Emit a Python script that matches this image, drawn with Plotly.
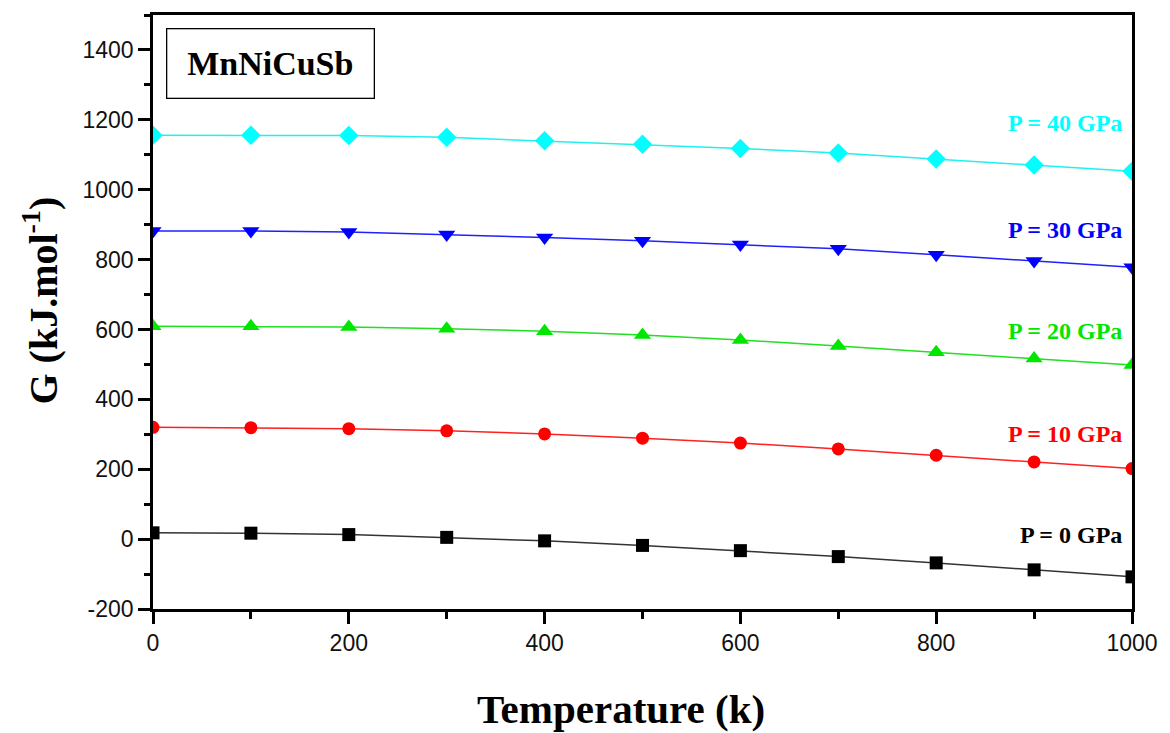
import plotly.graph_objects as go

# Temperature (K) and Gibbs free energy G (kJ/mol) at each pressure
temperature = [0, 100, 200, 300, 400, 500, 600, 700, 800, 900, 1000]
g_0gpa = [18, 17, 13, 5, -5, -18, -33, -50, -68, -88, -108]
g_10gpa = [320, 319, 316, 310, 301, 289, 275, 258, 240, 221, 202]
g_20gpa = [609, 609, 607, 602, 595, 584, 570, 553, 535, 517, 498]
g_30gpa = [882, 882, 879, 872, 863, 854, 843, 831, 814, 796, 778]
g_40gpa = [1156, 1156, 1155, 1150, 1140, 1130, 1118, 1105, 1088, 1071, 1053]

series_labels = ["P = 0 GPa", "P = 10 GPa", "P = 20 GPa", "P = 30 GPa", "P = 40 GPa"]
label_y = [11, 302, 595, 885, 1190]
compound = "MnNiCuSb"

x_ticks = [0, 200, 400, 600, 800, 1000]
y_ticks = [-200, 0, 200, 400, 600, 800, 1000, 1200, 1400]
y_tick_text = ["-200", "0", "200", "400", "600", "800", "1000", "1200", "1400"]

series = [g_0gpa, g_10gpa, g_20gpa, g_30gpa, g_40gpa]
colors = ["#000000", "#ff0000", "#00e600", "#0000ff", "#00ffff"]
line_colors = ["#333333", "#ff2020", "#20e020", "#2020ff", "#20f0f0"]
symbols = ["square", "circle", "triangle-up", "triangle-down", "diamond"]
sizes = [13, 13, 15, 15, 15]

fig = go.Figure()
for vals, c, lc, sym, sz, name in zip(series, colors, line_colors, symbols, sizes, series_labels):
    fig.add_trace(go.Scatter(
        x=temperature, y=vals, mode="lines+markers", name=name,
        line=dict(color=lc, width=1.5),
        marker=dict(symbol=sym, size=sz, color=c, line=dict(width=0)),
        cliponaxis=True, showlegend=False,
    ))

serif = "Liberation Serif"
for text, y, c in zip(series_labels, label_y, colors):
    fig.add_annotation(
        x=992, y=y, xref="x", yref="y", text=f"<b>{text}</b>",
        showarrow=False, xanchor="right", yanchor="middle",
        font=dict(family=serif, size=24, color=c),
    )

# Compound name in a framed box at the upper left
fig.add_annotation(
    x=0.12, y=0.918, xref="paper", yref="paper", text=f"<b>{compound}</b>",
    showarrow=False, xanchor="center", yanchor="middle",
    font=dict(family=serif, size=34, color="black"),
    bordercolor="black", borderwidth=1.3, borderpad=12,
    width=182, height=44, bgcolor="white",
)

# Axis titles
fig.add_annotation(
    x=0.478, y=-0.168, xref="paper", yref="paper",
    text="<b>Temperature (k)</b>", showarrow=False,
    xanchor="center", yanchor="middle",
    font=dict(family=serif, size=41, color="black"),
)
fig.add_annotation(
    x=-0.115, y=0.52, xref="paper", yref="paper",
    text="<b>G (kJ.mol<sup>-1</sup>)</b>", showarrow=False, textangle=-90,
    xanchor="center", yanchor="middle",
    font=dict(family=serif, size=40, color="black"),
)

axis_common = dict(
    showline=True, linecolor="black", linewidth=2.5, mirror=True,
    ticks="outside", ticklen=12, tickwidth=2.5, tickcolor="black",
    showgrid=False, zeroline=False,
    tickfont=dict(family="Liberation Sans", size=23, color="#111111"),
)

fig.update_xaxes(
    range=[0, 1000], tickvals=x_ticks,
    minor=dict(tickvals=[100, 300, 500, 700, 900], ticks="outside", ticklen=7, tickwidth=2.5, tickcolor="black"),
    **axis_common,
)
fig.update_yaxes(
    range=[-200, 1500], tickvals=y_ticks, ticktext=y_tick_text,
    minor=dict(tickvals=[-100, 100, 300, 500, 700, 900, 1100, 1300, 1500], ticks="outside", ticklen=6, tickwidth=2.5, tickcolor="black"),
    **axis_common,
)

fig.update_layout(
    width=1170, height=733,
    margin=dict(l=153, r=36, t=12, b=124),
    plot_bgcolor="white", paper_bgcolor="white",
)

fig.write_html("out.html")
